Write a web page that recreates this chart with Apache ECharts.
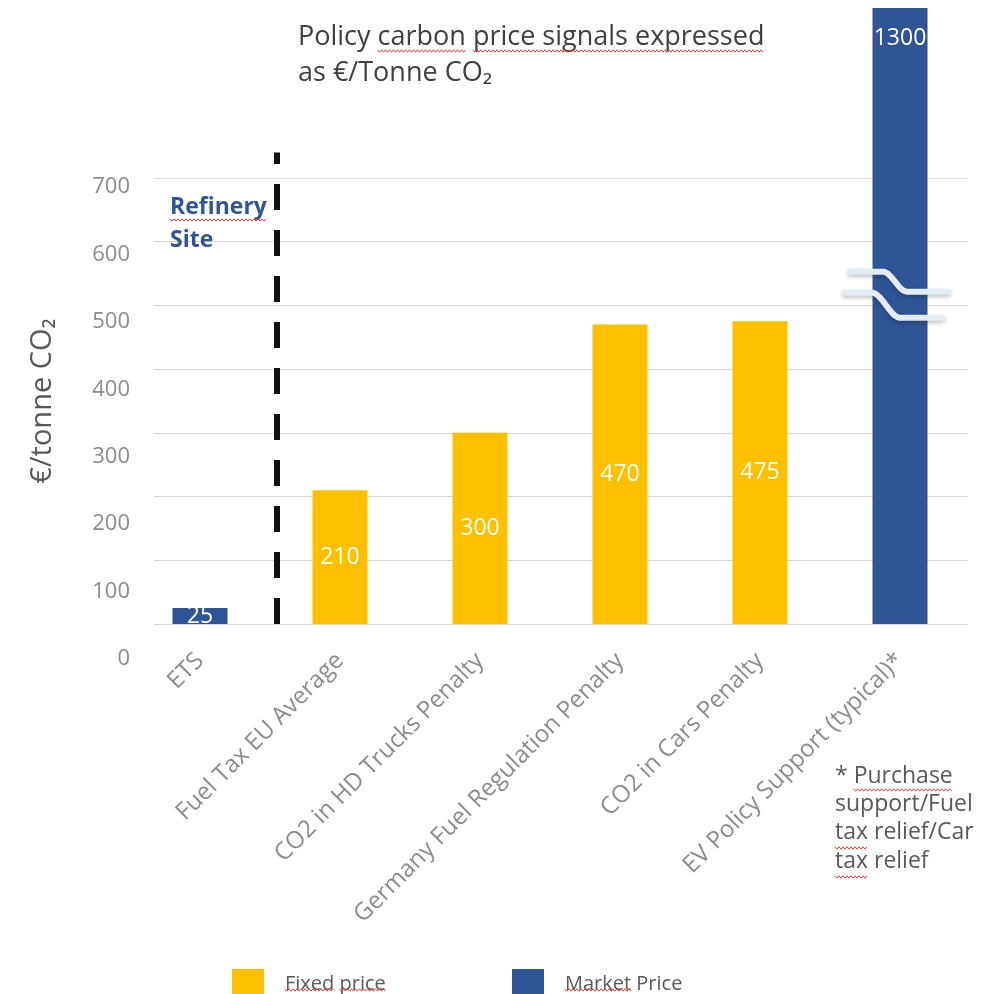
<!DOCTYPE html>
<html>
<head>
<meta charset="utf-8">
<script src="https://cdn.jsdelivr.net/npm/echarts@6/dist/echarts.min.js"></script>
<style>
  html, body { margin: 0; padding: 0; background: #ffffff; }
  #chart { width: 983px; height: 994px; }
</style>
</head>
<body>
<div id="chart"></div>
<script>
// Policy instruments compared on a common €/tonne CO2 basis
const categories = [
  'ETS',
  'Fuel Tax EU Average',
  'CO2 in HD Trucks Penalty',
  'Germany Fuel Regulation Penalty',
  'CO2 in Cars Penalty',
  'EV Policy Support (typical)*'
];
const fixedPrice  = [null, 210, 300, 470, 475, null];
const marketPrice = [25, null, null, null, null, 1300];
const seriesNames = ['Fixed price', 'Market Price'];
const tickMin = 0, tickMax = 700, tickStep = 100;

const FONT = '"Open Sans"';
const YELLOW = '#FFC000';
const BLUE = '#2F5597';
const TEXT_DARK = '#595959';
const TEXT_GRAY = '#8c8c8c';

const chart = echarts.init(document.getElementById('chart'), null, { renderer: 'canvas' });

// values above the gridded range get their label at the top of the bar
const marketData = marketPrice.map(v =>
  v === null ? null : (v > tickMax ? { value: v, label: { position: 'insideTop', distance: 19 } } : v)
);

const labelStyle = { show: true, position: 'inside', color: '#ffffff', fontSize: 23, fontFamily: FONT };

const legendBase = {
  icon: 'rect', itemWidth: 32, itemHeight: 30, padding: 0, top: 969,
  textStyle: { color: TEXT_DARK, fontSize: 20, fontFamily: FONT, padding: [0, 0, 8, 16] }
};

chart.setOption({
  animation: false,
  backgroundColor: '#ffffff',
  grid: [
    { id: 'bars',  left: 130, right: 13, top: 8,   bottom: 370 },
    { id: 'lines', left: 154, right: 15, top: 178, bottom: 370 },
    { id: 'ticks', left: 138, width: 1,  top: 187, bottom: 335 }
  ],
  xAxis: [
    {
      type: 'category', gridIndex: 0, data: categories,
      axisLine: { show: false }, axisTick: { show: false },
      axisLabel: { interval: 0, rotate: 45, margin: 33, color: TEXT_GRAY, fontSize: 24, fontFamily: FONT }
    },
    { type: 'value', gridIndex: 1, show: false },
    { type: 'value', gridIndex: 2, show: false }
  ],
  yAxis: [
    {
      type: 'value', gridIndex: 0, min: 0, max: 1300, show: false,
      splitLine: { show: false },
      breaks: [{ start: 750, end: 1083.2, gap: 0 }],
      breakArea: { show: false }
    },
    {
      type: 'value', gridIndex: 1, min: tickMin, max: tickMax, interval: tickStep,
      axisLine: { show: false }, axisTick: { show: false }, axisLabel: { show: false },
      splitLine: { lineStyle: { color: '#d9d9d9', width: 1 } }
    },
    {
      type: 'value', gridIndex: 2, min: tickMin, max: tickMax, interval: tickStep,
      axisLine: { show: false }, axisTick: { show: false }, splitLine: { show: false },
      axisLabel: { color: TEXT_GRAY, fontSize: 22, fontFamily: FONT, margin: 8 }
    }
  ],
  legend: [
    Object.assign({}, legendBase, { left: 232, data: [seriesNames[0]] }),
    Object.assign({}, legendBase, { left: 512, data: [seriesNames[1]] })
  ],
  series: [
    {
      name: seriesNames[0], type: 'bar', xAxisIndex: 0, yAxisIndex: 0,
      data: fixedPrice, barWidth: 55, barGap: '-100%',
      itemStyle: { color: YELLOW }, label: labelStyle
    },
    {
      name: seriesNames[1], type: 'bar', xAxisIndex: 0, yAxisIndex: 0,
      data: marketData, barWidth: 55, barGap: '-100%',
      itemStyle: { color: BLUE }, label: labelStyle
    }
  ]
});

// ---- annotations placed from the axes ----
const px = (cat) => chart.convertToPixel({ xAxisIndex: 0 }, cat);
const py = (val) => chart.convertToPixel({ yAxisIndex: 1 }, val);

const measureCtx = document.createElement('canvas').getContext('2d');
function textWidth(str, font) { measureCtx.font = font; return measureCtx.measureText(str).width; }

// spell-check style wavy underline between two x positions
function squiggle(x1, x2, y) {
  const pts = [];
  let up = true;
  for (let x = x1; x <= x2; x += 2) { pts.push([x, y + (up ? -1.2 : 1.2)]); up = !up; }
  return { type: 'polyline', silent: true, z: 20, shape: { points: pts }, style: { stroke: '#e8393c', lineWidth: 1, fill: null } };
}
// underline the part of a left-aligned string from index a to index b
function underline(str, a, b, x, y, font) {
  return squiggle(x + textWidth(str.slice(0, a), font), x + textWidth(str.slice(0, b), font), y);
}

// smooth step line used for the axis-break marks on the tall bar
function breakWave(cx, cy, xs, xe, xa, xb, yl, yr) {
  const pts = [];
  for (let x = xs; x <= xe; x += 1) {
    let t = (x - xa) / (xb - xa);
    t = Math.max(0, Math.min(1, t));
    const s = t * t * (3 - 2 * t);
    pts.push([cx + x, cy + yl + (yr - yl) * s]);
  }
  return {
    type: 'polyline', silent: true, z: 30, shape: { points: pts },
    style: { stroke: '#e3ebf3', lineWidth: 6, fill: null, lineCap: 'round',
             shadowColor: 'rgba(0,0,0,0.25)', shadowBlur: 4, shadowOffsetY: 2 }
  };
}

const dividerX = (px(0) + px(1)) / 2 + 7;
const evX = px(categories.length - 1);
const breakY = py(520);

const text = (t, x, y, font, fill) => ({
  type: 'text', silent: true, z: 20, x: x, y: y,
  style: { text: t, fill: fill || TEXT_DARK, font: font, align: 'left', verticalAlign: 'middle' }
});

const TITLE_FONT = '27px ' + FONT;
const NOTE_FONT = '23px ' + FONT;
const SITE_FONT = 'bold 23px ' + FONT;
const LEGEND_FONT = '20px ' + FONT;

const title1 = 'Policy carbon price signals expressed';
const note = ['* Purchase', 'support/Fuel', 'tax relief/Car', 'tax relief'];
const legendTextX = [232 + 32 + 5 + 16, 512 + 32 + 5 + 16];

chart.setOption({
  graphic: [
    // refinery boundary
    {
      type: 'line', silent: true, z: 15,
      shape: { x1: dividerX, y1: py(0), x2: dividerX, y2: py(740) },
      style: { stroke: '#111111', lineWidth: 6, lineDash: [26, 20] }
    },
    breakWave(evX, breakY, -50, 48, -17, 7, -21, -1),
    breakWave(evX, breakY, -55, 42, -28, 0, 0, 25),

    text(title1, 298, 37, TITLE_FONT, '#404040'),
    text('as €/Tonne CO\u2082', 298, 73, TITLE_FONT, '#404040'),
    underline(title1, 7, 13, 298, 51, TITLE_FONT),
    underline(title1, 14, 37, 298, 51, TITLE_FONT),

    {
      type: 'text', silent: true, z: 20, x: 43, y: 401, rotation: Math.PI / 2,
      style: { text: '€/tonne CO\u2082', fill: TEXT_DARK, font: '29px ' + FONT, align: 'center', verticalAlign: 'middle' }
    },

    text('Refinery', 170, 207, SITE_FONT, BLUE),
    text('Site', 170, 240, SITE_FONT, BLUE),
    underline('Refinery', 0, 8, 170, 220, SITE_FONT),

    text(note[0], 835, 776, NOTE_FONT),
    text(note[1], 835, 804, NOTE_FONT),
    text(note[2], 835, 832, NOTE_FONT),
    text(note[3], 835, 861, NOTE_FONT),
    underline(note[0], 2, 10, 835, 790, NOTE_FONT),
    underline(note[2], 0, 3, 835, 848, NOTE_FONT),
    underline(note[3], 0, 3, 835, 877, NOTE_FONT),

    underline(seriesNames[0], 0, 5, legendTextX[0], 990, LEGEND_FONT),
    underline(seriesNames[0], 6, 11, legendTextX[0], 990, LEGEND_FONT),
    underline(seriesNames[1], 0, 6, legendTextX[1], 990, LEGEND_FONT)
  ]
});
</script>
</body>
</html>
